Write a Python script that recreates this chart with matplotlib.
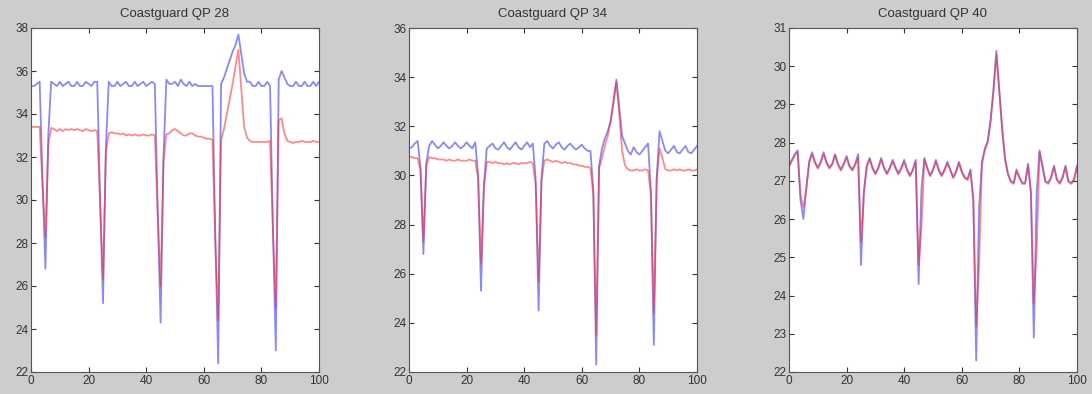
import numpy as np
import matplotlib
matplotlib.use("Agg")
import matplotlib.pyplot as plt

plt.rcParams['font.family'] = ['Liberation Sans', 'DejaVu Sans']

# frame index 0..100
frames = list(range(101))

titles = ["Coastguard QP 28", "Coastguard QP 34", "Coastguard QP 40"]
ylims = [(22, 38), (22, 36), (22, 31)]
ysteps = [2, 2, 1]

# QP 28
blue_qp28 = [35.3, 35.3, 35.4, 35.5, 31.0, 26.8, 33.0, 35.5, 35.4, 35.3,
             35.5, 35.3, 35.4, 35.5, 35.3, 35.3, 35.5, 35.3, 35.3, 35.5,
             35.4, 35.3, 35.5, 35.5, 30.0, 25.2, 32.5, 35.5, 35.3, 35.3,
             35.5, 35.3, 35.4, 35.5, 35.3, 35.3, 35.5, 35.3, 35.4, 35.5,
             35.3, 35.4, 35.5, 35.4, 29.5, 24.3, 32.0, 35.6, 35.4, 35.4,
             35.5, 35.3, 35.6, 35.4, 35.3, 35.5, 35.3, 35.4, 35.3, 35.3,
             35.3, 35.3, 35.3, 35.3, 28.3, 22.4, 35.4, 35.7, 36.1, 36.5,
             36.9, 37.2, 37.7, 36.8, 35.9, 35.5, 35.5, 35.3, 35.3, 35.5,
             35.3, 35.3, 35.5, 35.3, 28.8, 23.0, 35.6, 36.0, 35.7, 35.4,
             35.3, 35.3, 35.5, 35.3, 35.3, 35.5, 35.3, 35.3, 35.5, 35.3,
             35.5]
red_qp28 = [33.4, 33.4, 33.4, 33.4, 30.6, 28.3, 32.6, 33.35, 33.3, 33.2,
            33.3, 33.2, 33.3, 33.25, 33.3, 33.25, 33.3, 33.25, 33.2, 33.3,
            33.25, 33.2, 33.25, 33.2, 29.8, 26.3, 32.2, 33.1, 33.15, 33.1,
            33.1, 33.05, 33.1, 33.0, 33.05, 33.0, 33.05, 33.0, 33.0, 33.05,
            33.0, 33.0, 33.05, 33.0, 29.3, 26.0, 31.8, 33.05, 33.1, 33.25,
            33.3, 33.2, 33.1, 33.0, 33.0, 33.1, 33.1, 33.0, 32.95, 32.95,
            32.9, 32.85, 32.85, 32.8, 28.0, 24.4, 32.8, 33.3, 34.0, 34.7,
            35.4, 36.2, 37.0, 35.2, 33.4, 32.9, 32.75, 32.7, 32.7, 32.7,
            32.7, 32.7, 32.7, 32.75, 28.5, 25.0, 33.7, 33.8, 33.1, 32.75,
            32.7, 32.65, 32.7, 32.7, 32.75, 32.7, 32.7, 32.7, 32.75, 32.7,
            32.7]

# QP 34
blue_qp34 = [31.1, 31.15, 31.3, 31.4, 30.3, 26.8, 30.5, 31.2, 31.4, 31.25,
             31.1, 31.2, 31.35, 31.2, 31.1, 31.2, 31.35, 31.2, 31.1, 31.2,
             31.35, 31.2, 31.1, 31.35, 30.0, 25.3, 29.6, 31.1, 31.2, 31.3,
             31.1, 31.05, 31.2, 31.35, 31.15, 31.05, 31.2, 31.35, 31.15, 31.05,
             31.2, 31.35, 31.15, 31.3, 29.8, 24.5, 29.9, 31.3, 31.4, 31.2,
             31.1, 31.25, 31.35, 31.15, 31.05, 31.2, 31.3, 31.15, 31.05, 31.15,
             31.25, 31.1, 31.0, 31.0, 29.4, 22.3, 30.4, 31.1, 31.5, 31.8,
             32.2, 33.0, 33.9, 32.8, 31.6, 31.3, 31.0, 30.85, 31.15, 30.95,
             30.85, 31.0, 31.15, 31.3, 29.4, 23.1, 29.9, 31.8, 31.4, 31.0,
             30.9, 31.05, 31.2, 30.95, 30.9, 31.05, 31.2, 30.95, 30.9, 31.05,
             31.2]
red_qp34 = [30.75, 30.75, 30.7, 30.7, 30.2, 27.3, 30.4, 30.75, 30.7, 30.7,
            30.65, 30.65, 30.65, 30.6, 30.65, 30.6, 30.6, 30.65, 30.6, 30.6,
            30.6, 30.65, 30.6, 30.6, 29.9, 26.4, 29.5, 30.55, 30.55, 30.5,
            30.55, 30.5, 30.5, 30.45, 30.5, 30.45, 30.5, 30.5, 30.45, 30.5,
            30.5, 30.5, 30.55, 30.5, 29.6, 25.7, 29.8, 30.6, 30.65, 30.6,
            30.55, 30.6, 30.55, 30.5, 30.55, 30.5, 30.5, 30.45, 30.45, 30.4,
            30.4, 30.35, 30.35, 30.3, 29.2, 23.5, 30.3, 30.7, 31.2, 31.6,
            32.2, 33.0, 33.8, 32.5, 31.0, 30.4, 30.25, 30.2, 30.2, 30.25,
            30.2, 30.2, 30.25, 30.2, 29.2, 24.4, 29.8, 31.1, 30.7, 30.25,
            30.2, 30.2, 30.25, 30.2, 30.25, 30.2, 30.2, 30.25, 30.2, 30.2,
            30.25]

# QP 40
blue_qp40 = [27.4, 27.55, 27.7, 27.8, 26.5, 26.0, 26.8, 27.5, 27.75, 27.5,
             27.35, 27.5, 27.75, 27.5, 27.35, 27.45, 27.7, 27.45, 27.3, 27.45,
             27.65, 27.4, 27.3, 27.45, 27.7, 24.8, 26.7, 27.4, 27.6, 27.35,
             27.2, 27.35, 27.6, 27.35, 27.2, 27.35, 27.55, 27.35, 27.2, 27.35,
             27.55, 27.3, 27.15, 27.3, 27.55, 24.3, 26.8, 27.6, 27.35, 27.15,
             27.3, 27.55, 27.3, 27.15, 27.3, 27.5, 27.3, 27.1, 27.25, 27.5,
             27.25, 27.1, 27.05, 27.3, 26.5, 22.3, 26.3, 27.5, 27.85, 28.05,
             28.6, 29.4, 30.4, 29.4, 28.4, 27.6, 27.2, 27.0, 26.95, 27.3,
             27.1, 26.95, 26.95, 27.45, 26.7, 22.9, 26.7, 27.8, 27.4, 27.0,
             26.95, 27.1, 27.4, 27.05, 26.95, 27.1, 27.4, 27.0, 26.95, 27.05,
             27.4]
red_qp40 = [27.37, 27.52, 27.66, 27.75, 26.6, 26.3, 26.8, 27.47, 27.7, 27.47,
            27.32, 27.47, 27.7, 27.47, 27.32, 27.42, 27.66, 27.42, 27.27, 27.42,
            27.6, 27.37, 27.27, 27.42, 27.6, 25.4, 26.7, 27.37, 27.56, 27.32,
            27.17, 27.32, 27.56, 27.32, 27.17, 27.32, 27.5, 27.32, 27.17, 27.32,
            27.5, 27.27, 27.12, 27.27, 27.5, 24.8, 25.8, 27.56, 27.32, 27.12,
            27.27, 27.5, 27.27, 27.12, 27.27, 27.46, 27.27, 27.07, 27.22, 27.46,
            27.22, 27.07, 27.02, 27.25, 26.5, 23.2, 24.8, 27.45, 27.8, 28.0,
            28.55, 29.35, 30.3, 29.35, 28.35, 27.55, 27.17, 26.97, 26.92, 27.25,
            27.07, 26.92, 26.92, 27.4, 26.7, 23.8, 25.2, 27.75, 27.37, 26.97,
            26.92, 27.07, 27.36, 27.02, 26.92, 27.07, 27.36, 26.97, 26.92, 27.02,
            27.36]

blue_series = [blue_qp28, blue_qp34, blue_qp40]
red_series = [red_qp28, red_qp34, red_qp40]

fig = plt.figure(figsize=(10.92, 3.94), dpi=100)
fig.patch.set_facecolor('#cdcdcd')

lefts = [31 / 1092, 409 / 1092, 789 / 1092]
w = 288 / 1092
b = 22 / 394
h = 344 / 394

for i in range(3):
    ax = fig.add_axes([lefts[i], b, w, h])
    ax.set_facecolor('white')
    ax.plot(frames, blue_series[i], color='#3a3aff', lw=1.3, alpha=0.6)
    ax.plot(frames, red_series[i], color='#ff2a2a', lw=1.3, alpha=0.55)
    ax.set_xlim(0, 100)
    ax.set_ylim(*ylims[i])
    ax.set_xticks(range(0, 101, 20))
    lo, hi = ylims[i]
    ax.set_yticks(np.arange(lo, hi + 0.1, ysteps[i]))
    ax.tick_params(direction='in', top=True, right=True, length=3.5,
                   labelsize=8.5, colors='#333333', pad=2)
    for s in ax.spines.values():
        s.set_color('#555555')
        s.set_linewidth(0.8)
    ax.set_title(titles[i], fontsize=9.5, color='#333333', pad=8)

fig.savefig('out.png', dpi=100, facecolor=fig.get_facecolor())
